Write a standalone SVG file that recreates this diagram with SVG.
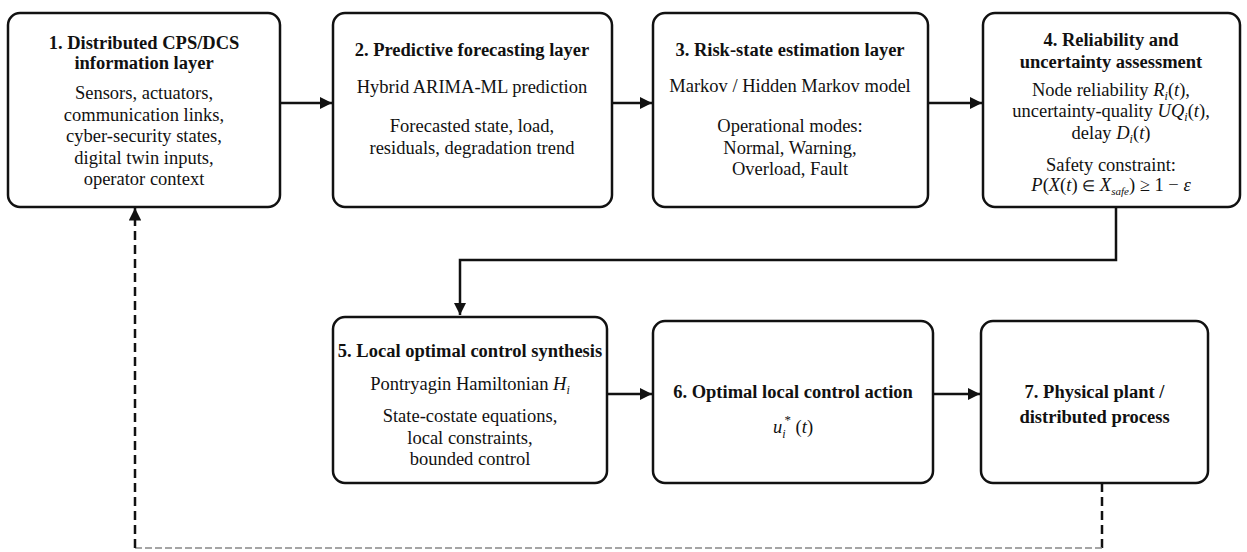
<svg xmlns="http://www.w3.org/2000/svg" width="1247" height="552" viewBox="0 0 1247 552">
<style>
.box{fill:#fff;stroke:#111;stroke-width:2.5}
.t{font-family:"Liberation Serif","Times New Roman",serif;font-size:18.5px;fill:#111;text-anchor:middle}
.b{font-weight:bold}
.i{font-style:italic}
.c{fill:none;stroke:#111;stroke-width:2.5}
.d{fill:none;stroke:#111;stroke-width:2.5;stroke-dasharray:9,5}
.dl{fill:none;stroke:#888;stroke-width:1.5;stroke-dasharray:7,3}
</style>
<defs>
<marker id="ah" viewBox="0 0 10 10" refX="10" refY="5" markerWidth="5" markerHeight="5" markerUnits="strokeWidth" orient="auto">
<path d="M0,0 L10,5 L0,10 z" fill="#111"/>
</marker>
</defs>
<rect width="1247" height="552" fill="#fff"/>
<g id="connectors">
<line class="c" x1="280" y1="103" x2="332" y2="103" marker-end="url(#ah)"/>
<line class="c" x1="612" y1="103" x2="652" y2="103" marker-end="url(#ah)"/>
<line class="c" x1="928" y1="103" x2="982" y2="103" marker-end="url(#ah)"/>
<path class="c" d="M1116,207 V260 H460 V315" marker-end="url(#ah)"/>
<line class="c" x1="607" y1="394" x2="652" y2="394" marker-end="url(#ah)"/>
<line class="c" x1="933" y1="394" x2="980" y2="394" marker-end="url(#ah)"/>
<path class="d" d="M1102,483 V548"/>
<path class="dl" d="M1102,548 H135"/>
<path class="d" d="M135,548 V208" marker-end="url(#ah)"/>
</g>
<g id="n1">
<rect class="box" x="8" y="13" width="272" height="194" rx="12"/>
<text class="t b" x="144" y="49">1. Distributed CPS/DCS</text>
<text class="t b" x="144" y="69">information layer</text>
<text class="t" x="144" y="99">Sensors, actuators,</text>
<text class="t" x="144" y="120.5">communication links,</text>
<text class="t" x="144" y="142">cyber-security states,</text>
<text class="t" x="144" y="163.5">digital twin inputs,</text>
<text class="t" x="144" y="185">operator context</text>
</g>
<g id="n2">
<rect class="box" x="333" y="13" width="279" height="194" rx="12"/>
<text class="t b" x="472" y="56">2. Predictive forecasting layer</text>
<text class="t" x="472" y="93">Hybrid ARIMA-ML prediction</text>
<text class="t" x="472" y="132">Forecasted state, load,</text>
<text class="t" x="472" y="154">residuals, degradation trend</text>
</g>
<g id="n3">
<rect class="box" x="653" y="13" width="275" height="194" rx="12"/>
<text class="t b" x="790" y="56">3. Risk-state estimation layer</text>
<text class="t" x="790" y="92">Markov / Hidden Markov model</text>
<text class="t" x="790" y="132">Operational modes:</text>
<text class="t" x="790" y="153.5">Normal, Warning,</text>
<text class="t" x="790" y="175">Overload, Fault</text>
</g>
<g id="n4">
<rect class="box" x="983" y="13" width="257" height="194" rx="12"/>
<text class="t b" x="1111" y="46">4. Reliability and</text>
<text class="t b" x="1111" y="68">uncertainty assessment</text>
<text class="t" x="1111" y="96">Node reliability <tspan class="i">R</tspan><tspan class="i" font-size="12" dy="4">i</tspan><tspan dy="-4">(</tspan><tspan class="i">t</tspan>),</text>
<text class="t" x="1111" y="117">uncertainty-quality <tspan class="i">UQ</tspan><tspan class="i" font-size="12" dy="4">i</tspan><tspan dy="-4">(</tspan><tspan class="i">t</tspan>),</text>
<text class="t" x="1111" y="139">delay <tspan class="i">D</tspan><tspan class="i" font-size="12" dy="4">i</tspan><tspan dy="-4">(</tspan><tspan class="i">t</tspan>)</text>
<text class="t" x="1111" y="171">Safety constraint:</text>
<text class="t" x="1111" y="191"><tspan class="i">P</tspan>(<tspan class="i">X</tspan>(<tspan class="i">t</tspan>) <tspan font-size="15">∈</tspan> <tspan class="i">X</tspan><tspan class="i" font-size="11" dy="4">safe</tspan><tspan dy="-4">) ≥ 1 − </tspan><tspan class="i">ε</tspan></text>
</g>
<g id="n5">
<rect class="box" x="333" y="317" width="274" height="166" rx="12"/>
<text class="t b" x="470" y="357">5. Local optimal control synthesis</text>
<text class="t" x="470" y="390">Pontryagin Hamiltonian <tspan class="i">H</tspan><tspan class="i" font-size="12" dy="4">i</tspan></text>
<text class="t" x="470" y="422">State-costate equations,</text>
<text class="t" x="470" y="443.5">local constraints,</text>
<text class="t" x="470" y="465">bounded control</text>
</g>
<g id="n6">
<rect class="box" x="653" y="321" width="280" height="162" rx="12"/>
<text class="t b" x="793" y="398">6. Optimal local control action</text>
<text class="t" x="793" y="433"><tspan class="i">u</tspan><tspan class="i" font-size="12" dy="5">i</tspan><tspan font-size="13" dx="-1" dy="-14">*</tspan><tspan dy="9"> (</tspan><tspan class="i">t</tspan>)</text>
</g>
<g id="n7">
<rect class="box" x="981" y="321" width="227" height="162" rx="12"/>
<text class="t b" x="1094.5" y="398">7. Physical plant /</text>
<text class="t b" x="1094.5" y="423">distributed process</text>
</g>
</svg>
